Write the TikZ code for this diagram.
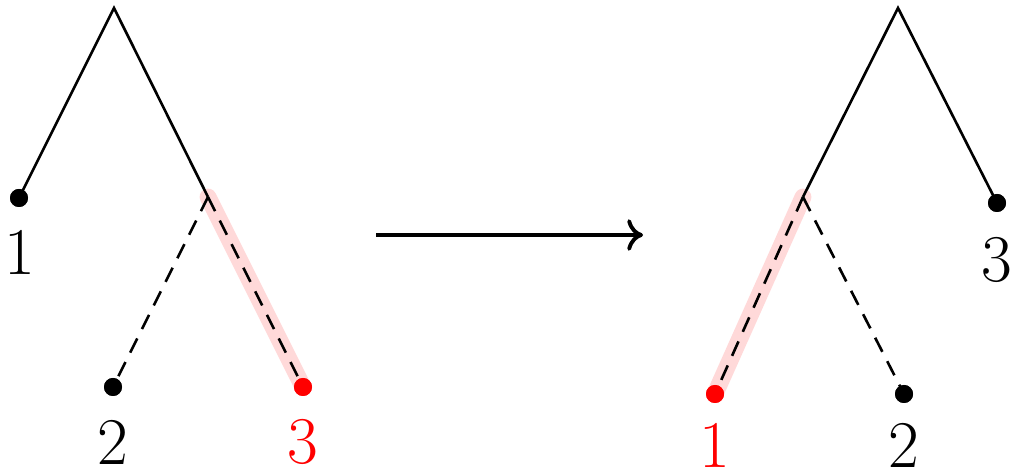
\documentclass[tikz,border=0pt]{standalone}
\usetikzlibrary{arrows.meta}
\begin{document}
\begin{tikzpicture}[
  edge/.style={line width=0.75pt},
  dedge/.style={line width=0.75pt, dash pattern=on 4.5pt off 3pt},
  hl/.style={line width=4.8pt, red, opacity=0.15, line cap=round},
  leaf/.style={circle, fill=black, inner sep=0pt, minimum size=0.18cm},
  rleaf/.style={leaf, fill=red},
  lab/.style={inner sep=0pt, font=\fontsize{19}{22}\selectfont},
  pt/.style={inner sep=0pt, minimum size=0pt}
]
\useasboundingbox (0,0) rectangle (10.13,-4.74);
% left tree
\coordinate (la) at (1.14,-0.08);
\coordinate (lj) at (2.08,-1.97);
\node[leaf] (l1) at (0.19,-1.98) {};
\node[leaf] (l2) at (1.13,-3.87) {};
\node[rleaf] (l3) at (3.03,-3.87) {};
\draw[hl] (lj) -- (l3.center);
\draw[edge, line join=miter] (l1.center) -- (la) -- (lj);
\draw[dedge] (lj) -- (l2.center);
\draw[dedge] (lj) -- (l3.center);
\node[leaf] at (l1) {};
\node[leaf] at (l2) {};
\node[rleaf] at (l3) {};
\node[lab] (t1) at (0.20,-2.52) {1};
\node[lab] (t2) at (1.13,-4.42) {2};
\node[lab, text=red] (t3) at (3.03,-4.42) {3};
% arrow
\coordinate (as) at (3.76,-2.35);
\coordinate (ae) at (6.43,-2.35);
\draw[line width=1.1pt, -{To[length=4.5pt,width=9pt]}] (as) -- (ae);
% right tree
\coordinate (ra) at (8.98,-0.08);
\coordinate (rj) at (8.03,-1.97);
\node[leaf] (r3) at (9.97,-2.03) {};
\node[rleaf] (r1) at (7.15,-3.94) {};
\node[leaf] (r2) at (9.04,-3.94) {};
\draw[hl] (rj) -- (r1.center);
\draw[edge, line join=miter] (rj) -- (ra) -- (r3.center);
\draw[dedge] (rj) -- (r1.center);
\draw[dedge] (rj) -- (r2.center);
\node[leaf] at (r3) {};
\node[rleaf] at (r1) {};
\node[leaf] at (r2) {};
\node[lab] (s3) at (9.97,-2.60) {3};
\node[lab, text=red] (s1) at (7.15,-4.45) {1};
\node[lab] (s2) at (9.04,-4.45) {2};
\end{tikzpicture}
\end{document}
